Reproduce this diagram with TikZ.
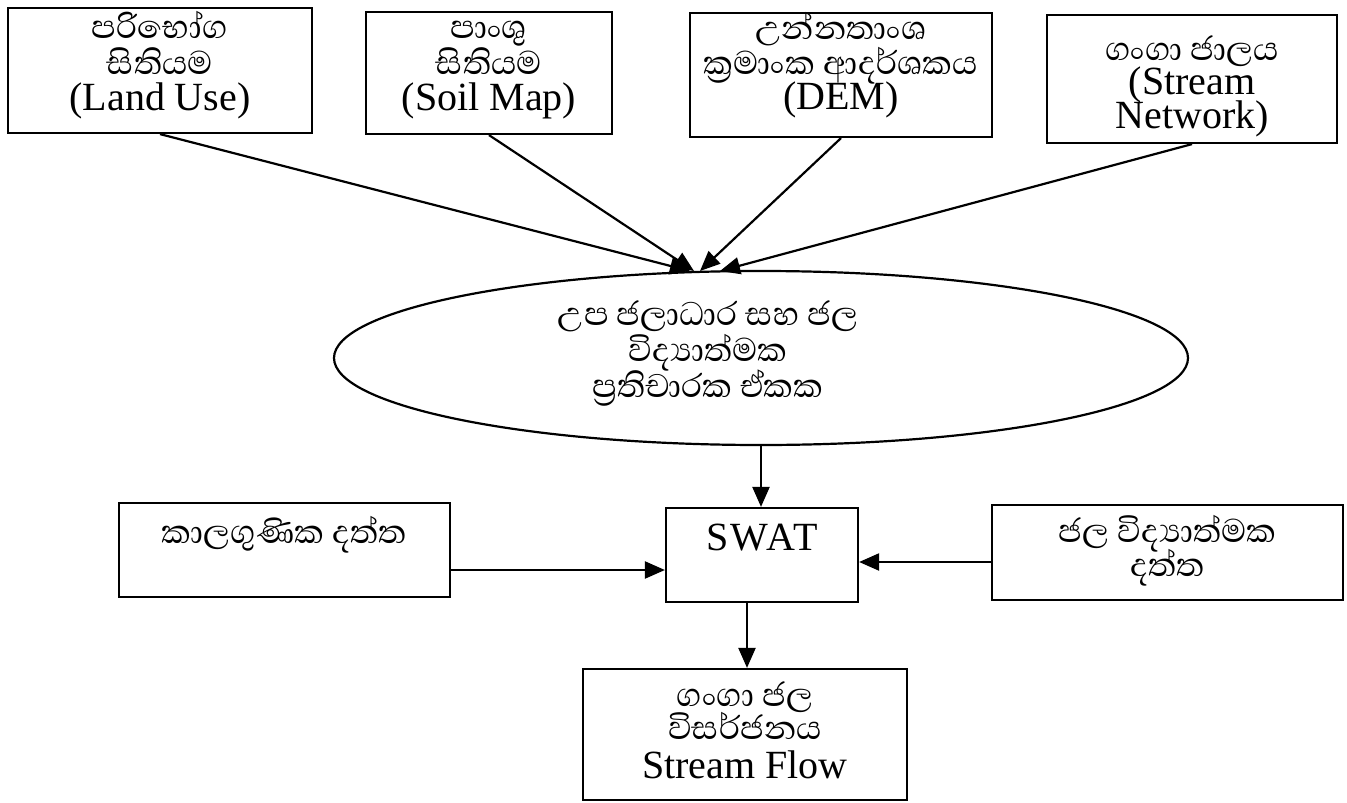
\documentclass[tikz,border=0pt]{standalone}
\usepackage{fontspec}
\setmainfont{Liberation Serif}
\newfontfamily\sinfont[Script=Sinhala,Scale=1.05]{Abhaya Libre}
\newfontfamily\spacedfont[LetterSpace=6]{Liberation Serif}
\usetikzlibrary{arrows.meta,shapes.geometric,calc}
\setlength{\lineskiplimit}{-100pt}
\begin{document}
\begin{tikzpicture}[x=1pt,y=-1pt,
  box/.style={draw,line width=2.2pt,inner sep=0pt,align=center,
    font=\fontsize{40}{38}\selectfont},
  arr/.style={line width=2.2pt,-{Triangle[length=20pt,width=17pt]}},
]
\useasboundingbox (0,0) rectangle (1347,803);
\fill[white] (0,0) rectangle (1347,803);
% top row (text height = top edge to last baseline)
\node[box,minimum width=304pt,text height=102pt,text depth=23pt,
  font=\fontsize{40}{36}\selectfont] (land) at (160,70.5)
  {{\sinfont පරිභෝග}\\{\sinfont සිතියම}\\(Land Use)};
\node[box,minimum width=246pt,text height=98pt,text depth=24pt,
  font=\fontsize{40}{36}\selectfont] (soil) at (489,73)
  {{\sinfont පාංශු}\\{\sinfont සිතියම}\\(Soil Map)};
\node[box,minimum width=302pt,text height=96pt,text depth=28pt,
  font=\fontsize{40}{35}\selectfont] (dem) at (841,75)
  {{\sinfont උන්නතාංශ}\\{\sinfont ක්‍රමාංක ආදර්ශකය}\\(DEM)};
\node[box,minimum width=290pt,text height=113pt,text depth=15pt,
  font=\fontsize{40}{34}\selectfont] (stream) at (1192,79)
  {{\sinfont ගංගා ජාලය}\\(Stream\\Network)};
% ellipse
\node[draw,ellipse,line width=2.2pt,minimum width=854pt,minimum height=174pt,inner sep=0pt] (E) at (761,358) {};
\node[inner sep=0pt,align=center,anchor=base,
  font=\fontsize{40}{36}\selectfont\sinfont] (Etext) at (708,397)
  {උප ජලාධාර සහ ජල\\විද්‍යාත්මක\\ප්‍රතිචාරක ඒකක};
% middle row
\node[box,minimum width=192pt,text height=42pt,text depth=52pt,font=\fontsize{40}{38}\spacedfont] (swat) at (762,555) {SWAT};
\node[box,minimum width=331pt,text height=40pt,text depth=54pt] (kaala) at (284.5,550)
  {\sinfont කාලගුණික දත්ත};
\node[box,minimum width=351pt,text height=71pt,text depth=24pt,
  font=\fontsize{40}{34}\selectfont] (jala) at (1167.5,552.5)
  {{\sinfont ජල විද්‍යාත්මක}\\{\sinfont දත්ත}};
% bottom
\node[box,minimum width=324pt,text height=109pt,text depth=22pt,
  font=\fontsize{40}{33}\selectfont] (flow) at (745,734.5)
  {{\sinfont ගංගා ජල}\\{\sinfont විසර්ජනය}\\[6pt]Stream Flow};
% arrow ends on ellipse top
\coordinate (t1) at (690,271);
\coordinate (t2) at (694,271);
\coordinate (t3) at (700,271);
\coordinate (t4) at (720,271);
\draw[arr] (land.south) -- (t1);
\draw[arr] (soil.south) -- (t2);
\draw[arr] (dem.south) -- (t3);
\draw[arr] (stream.south) -- (t4);
\draw[arr] (E.south) -- (E.south |- swat.north);
\draw[arr] ([yshift=-20pt]kaala.east) -- ([yshift=-20pt]kaala.east -| swat.west);
\draw[arr] ([yshift=-9.5pt]jala.west) -- ([yshift=-9.5pt]jala.west -| swat.east);
\draw[arr] ([xshift=-15pt]swat.south) -- ([xshift=-15pt]swat.south |- flow.north);
\end{tikzpicture}
\end{document}
